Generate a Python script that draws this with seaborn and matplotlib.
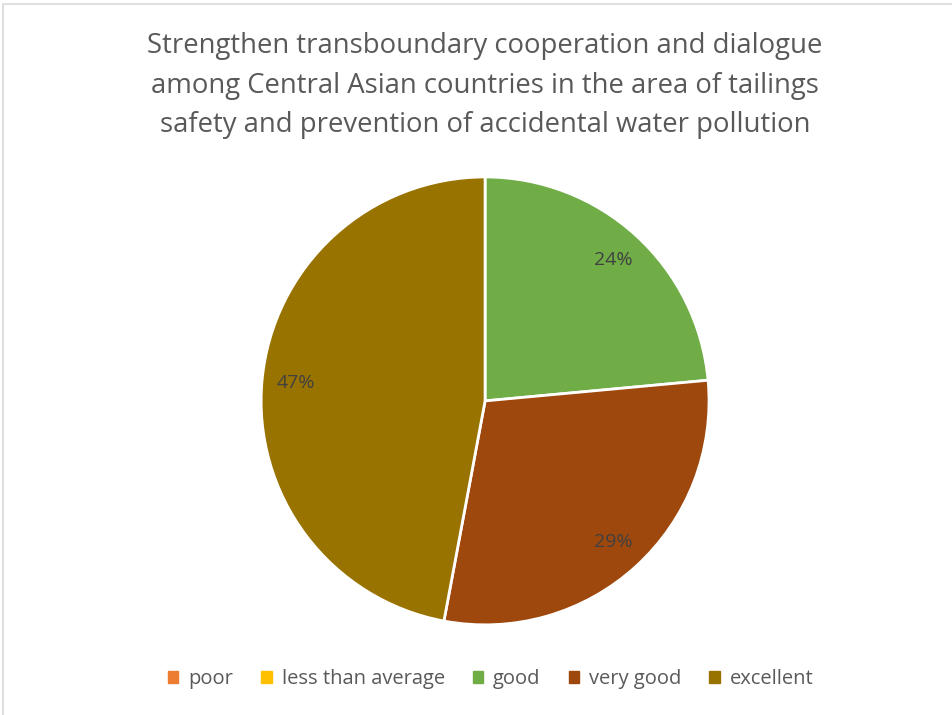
import matplotlib
matplotlib.use("Agg")
import matplotlib.pyplot as plt
import matplotlib.patches as mpatches
import seaborn as sns

categories = ['poor', 'less than average', 'good', 'very good', 'excellent']
answers = [0, 0, 4, 5, 8]
colors = ['#ED7D31', '#FFC000', '#70AD47', '#9E480E', '#997300']

sns.set_theme(style='white')
plt.rcParams['font.family'] = ['Open Sans', 'DejaVu Sans']

fig = plt.figure(figsize=(9.53, 7.15), dpi=100)

# light frame of the chart area
fig.patches.append(mpatches.Rectangle((3 / 953, -0.01), 1.0, (715 - 4) / 715 + 0.01,
                                      transform=fig.transFigure, fill=False,
                                      edgecolor='#D9D9D9', linewidth=1.2))

ax = fig.add_axes([0.274, 0.126, 0.470, 0.6266])
pal = sns.color_palette(colors)


def pct(p):
    return f'{p:.0f}%' if p > 0.5 else ''


wedges, texts, autotexts = ax.pie(
    answers, colors=pal, startangle=90, counterclock=False,
    autopct=pct, pctdistance=0.85,
    wedgeprops=dict(edgecolor='white', linewidth=2),
    textprops=dict(color='#404040', fontsize=14))
ax.set_xlim(-1.0, 1.0)
ax.set_ylim(-1.0, 1.0)
ax.set_aspect('equal')

fig.text(0.509, 0.955,
         'Strengthen transboundary cooperation and dialogue\n'
         'among Central Asian countries in the area of tailings\n'
         'safety and prevention of accidental water pollution',
         ha='center', va='top', fontsize=19.8, color='#595959', linespacing=1.55)

handles = [mpatches.Patch(color=c) for c in pal]
fig.legend(handles, categories, loc='center', bbox_to_anchor=(0.515, 0.05),
           ncol=5, frameon=False, fontsize=14.5, handlelength=0.5, handleheight=0.5,
           handletextpad=0.5, columnspacing=1.4, labelcolor='#595959')

fig.savefig('out.png', dpi=100)
